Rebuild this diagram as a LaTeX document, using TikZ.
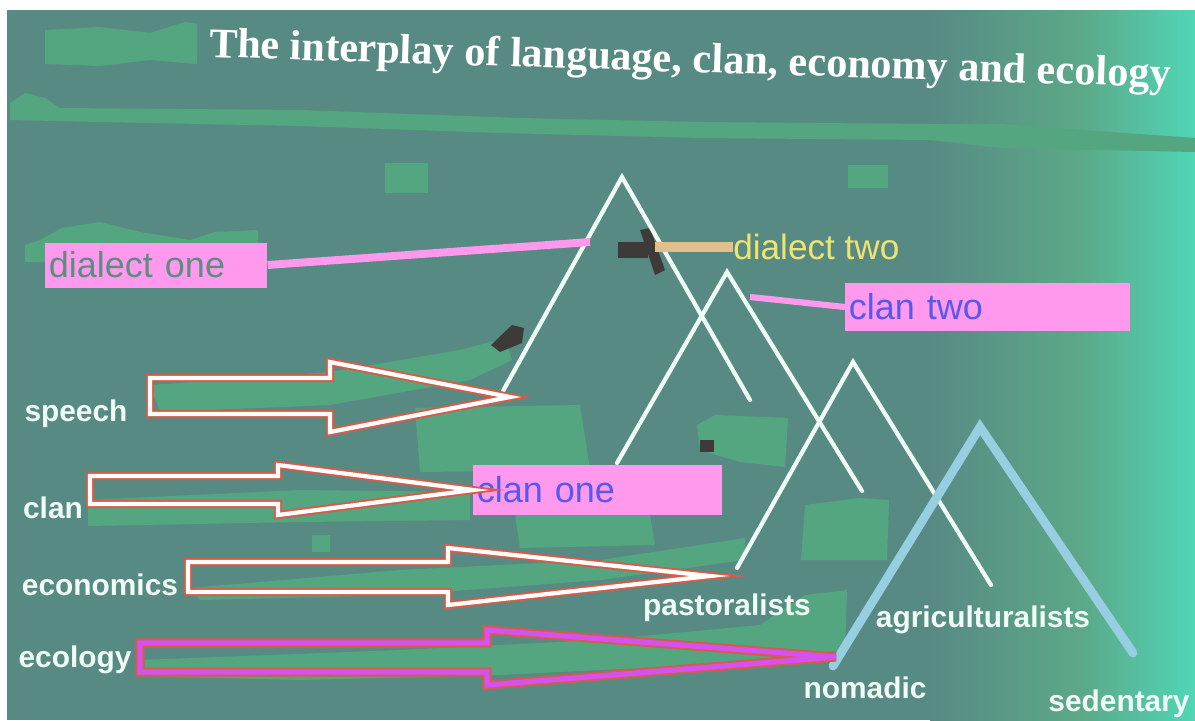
\documentclass[tikz,border=0pt]{standalone}
\usepackage{fontspec}
\setmainfont{Liberation Serif}
\setsansfont{Liberation Sans}
\usepackage{tikz}
\usetikzlibrary{positioning}
\definecolor{slate}{RGB}{88,138,132}
\definecolor{blobgreen}{RGB}{84,166,128}
\definecolor{midgreen}{RGB}{92,168,136}
\definecolor{glow}{RGB}{80,214,182}
\definecolor{pinkbox}{RGB}{255,153,238}
\definecolor{clanblue}{RGB}{88,88,236}
\definecolor{dialtext}{RGB}{92,142,128}
\definecolor{dialyellow}{RGB}{240,228,112}
\definecolor{tan}{RGB}{226,192,142}
\definecolor{arrowred}{RGB}{212,92,72}
\definecolor{magentaline}{RGB}{214,82,236}
\definecolor{ridgeblue}{RGB}{152,206,226}
\definecolor{labelwhite}{RGB}{240,252,246}
\definecolor{darkmark}{RGB}{62,58,58}
\tikzstyle{lbl} = [text=labelwhite, font=\sffamily\bfseries\fontsize{17}{17}\selectfont, inner sep=0pt]
\tikzstyle{tag} = [fill=pinkbox, font=\sffamily\fontsize{20.5}{20.5}\selectfont, inner xsep=2pt, inner ysep=0pt, anchor=west, align=left]
\tikzstyle{ridge} = [draw=labelwhite, line width=2.4pt, line cap=round]
\tikzstyle{bigridge} = [draw=ridgeblue, line width=5pt, line cap=round]
\tikzstyle{fat} = [draw=arrowred, line width=1.1pt, double=white, double distance=2.4pt]
\tikzstyle{tie} = [draw=pinkbox, line width=4.5pt]
\tikzstyle{blob} = [fill=blobgreen]

\begin{document}
\begin{tikzpicture}[x=0.02cm, y=-0.02cm]
\useasboundingbox (0,0) rectangle (1195,720);

% backdrop =============================
\fill[white] (0,0) rectangle (1195,720);
\fill[slate] (7,10) rectangle (1195,720);
\shade[left color=slate, right color=midgreen] (930,10) rectangle (1080,720);
\shade[left color=midgreen, right color=glow] (1080,10) rectangle (1195,720);

% green patches
\fill[blob] (45,30) -- (100,27) -- (150,33) -- (185,22) -- (197,24) -- (197,64) -- (150,60) -- (100,66) -- (45,64) -- cycle;
\fill[blob] (10,103) -- (25,93) -- (45,98) -- (60,108) -- (300,110) -- (520,118) -- (700,122) -- (930,124) -- (1000,124) -- (1195,138) -- (1195,152) -- (1000,148) -- (930,140) -- (700,138) -- (500,133) -- (300,126) -- (100,122) -- (10,120) -- cycle;
\fill[blob] (385,163) rectangle (428,193);
\fill[blob] (848,165) rectangle (888,188);
\fill[blob] (25,262) -- (25,245) -- (40,240) -- (62,228) -- (100,222) -- (140,232) -- (190,240) -- (215,232) -- (258,230) -- (258,262) -- cycle;
\fill[blob] (150,385) -- (330,372) -- (460,350) -- (505,338) -- (512,360) -- (470,380) -- (330,405) -- (160,412) -- cycle;
\fill[blob] (415,408) -- (580,405) -- (590,470) -- (420,472) -- cycle;
\fill[blob] (88,500) -- (300,490) -- (470,492) -- (470,520) -- (300,522) -- (88,526) -- cycle;
\fill[blob] (515,515) -- (650,515) -- (655,545) -- (520,548) -- cycle;
\fill[blob] (312,535) rectangle (330,552);
\fill[blob] (190,588) -- (400,570) -- (600,560) -- (700,545) -- (745,538) -- (745,560) -- (600,580) -- (400,595) -- (200,600) -- cycle;
\fill[blob] (697,425) -- (715,415) -- (788,418) -- (785,467) -- (740,462) -- (700,450) -- cycle;
\fill[blob] (805,505) -- (860,498) -- (889,500) -- (887,560) -- (801,560) -- cycle;
\fill[blob] (140,660) -- (400,650) -- (600,640) -- (760,625) -- (805,595) -- (847,590) -- (845,650) -- (700,665) -- (500,675) -- (300,680) -- (140,676) -- cycle;

% dark marks
\fill[darkmark] (491,345) -- (512,325) -- (524,328) -- (522,343) -- (500,352) -- cycle;
\fill[darkmark] (618,242) rectangle (648,258);
\fill[darkmark] (640,230) -- (650,228) -- (665,270) -- (655,275) -- cycle;
\fill[darkmark] (700,440) rectangle (714,452);

% title
\node[text=white, font=\bfseries\fontsize{24}{24}\selectfont, rotate=-1.8] (title) at (690,62) {The interplay of language, clan, economy and ecology};

% ridges =============================
\coordinate (p1) at (622,177);
\coordinate (p2) at (727,272);
\coordinate (p3) at (853,362);
\coordinate (p4) at (980,427);
\draw[ridge] (503,391) -- (p1) -- (750,400);
\draw[ridge] (617,463) -- (p2) -- (862,491);
\draw[ridge] (737,568) -- (p3) -- (991,585);
\draw[bigridge] (833,666) -- (p4) -- (1133,653);

% tags =============================
\node[tag, text=dialtext, minimum height=0.9cm, text width=4.3cm] (dial1) at (45,265) {dialect one};
\coordinate (d1tip) at (590,242);
\draw[tie] (dial1.east) -- (d1tip);

\coordinate (d2tip) at (655,247);
\node[text=dialyellow, font=\sffamily\fontsize{20}{20}\selectfont, inner sep=0pt, anchor=west, right=1.56cm of d2tip] (dial2) {dialect two};
\draw[draw=tan, line width=5.5pt] (d2tip) -- (dial2.west);

\coordinate (c2tip) at (750,297);
\node[tag, text=clanblue, minimum height=0.98cm, text width=5.56cm, right=1.9cm of c2tip, yshift=-0.2cm] (clan2) {clan two};
\draw[tie, line width=3.5pt] (c2tip) -- (clan2.west);

\node[tag, text=clanblue, minimum height=1cm, text width=4.84cm] (clan1) at (473,490) {clan one};

% block arrows =============================
\draw[fat] (150,378) -- (330,378) -- (330,362) -- (510,397) -- (330,432) -- (330,414) -- (150,414) -- cycle;
\draw[fat] (90,476) -- (278,476) -- (278,465) -- (clan1.west) -- (278,515) -- (278,504) -- (90,504) -- cycle;
\draw[fat] (188,562) -- (448,562) -- (448,548) -- (710,576) -- (448,605) -- (448,592) -- (188,592) -- cycle;
\draw[fat, double=magentaline, double distance=3pt] (140,643) -- (487,643) -- (487,630) -- (836,657) -- (487,685) -- (487,672) -- (140,672) -- cycle;

% labels =============================
\node[lbl] (speech) at (76,414) {speech};
\node[lbl] (clan) at (53,508) {clan};
\node[lbl] (econ) at (100,585) {economics};
\node[lbl] (ecol) at (75,660) {ecology};
\node[lbl] (past) at (727,608) {pastoralists};
\node[lbl] (agri) at (983,620) {agriculturalists};
\node[lbl] (noma) at (865,688) {nomadic};
\node[lbl] (sede) at (1119,704) {sedentary};

\end{tikzpicture}
\end{document}
